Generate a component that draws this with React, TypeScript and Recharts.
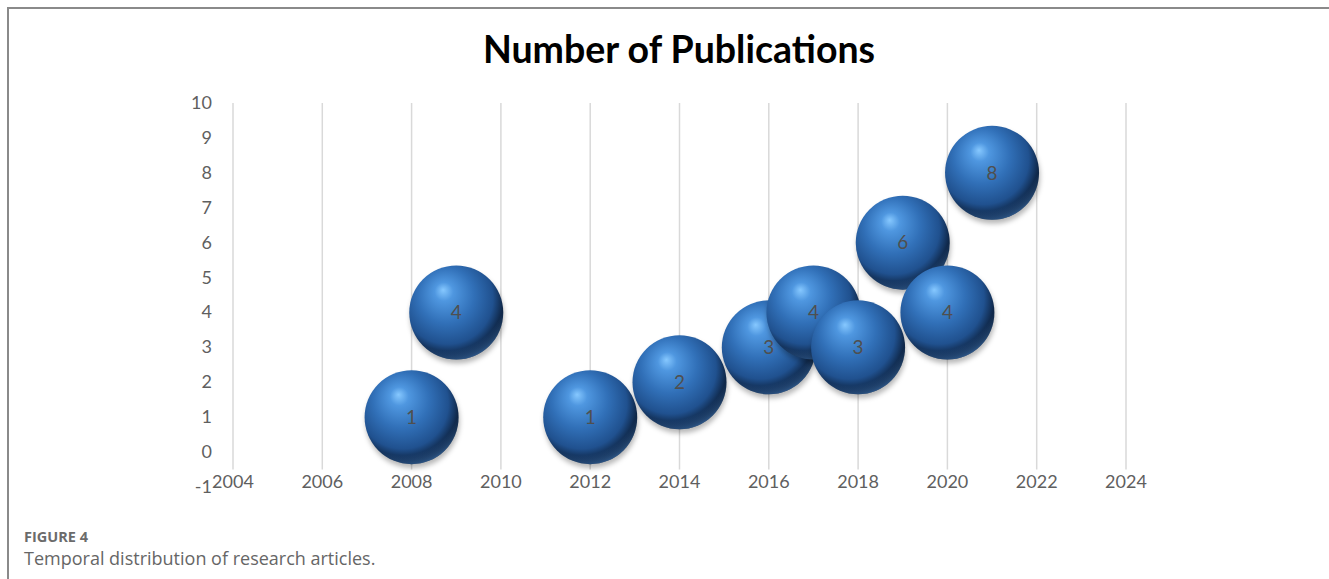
import { LabelList, ReferenceLine, Scatter, ScatterChart, XAxis, YAxis } from "recharts";

const years = [2008, 2009, 2012, 2014, 2016, 2017, 2018, 2019, 2020, 2021];
const counts = [1, 4, 1, 2, 3, 4, 3, 6, 4, 8];
const xTicks = [2004, 2006, 2008, 2010, 2012, 2014, 2016, 2018, 2020, 2022, 2024];
const yTicks = [-1, 0, 1, 2, 3, 4, 5, 6, 7, 8, 9, 10];
const gridBottom = -0.5;

const data = years.map((year, i) => ({ year, count: counts[i] }));

const tickFont = "Lato, 'Open Sans', sans-serif";
const BUBBLE_R = 47;

function Sphere(props: any) {
  const { cx, cy } = props;
  if (cx == null || cy == null) return null;
  return (
    <g>
      <circle cx={cx + 1} cy={cy + 4} r={BUBBLE_R} fill="rgba(0,0,0,0.28)" filter="url(#bubbleShadow)" />
      <circle cx={cx} cy={cy} r={BUBBLE_R} fill="url(#sphereBody)" />
      <circle cx={cx} cy={cy} r={BUBBLE_R} fill="url(#sphereRim)" />
    </g>
  );
}

function XTick(props: any) {
  const { x, y, payload } = props;
  return (
    <text x={x} y={y + 1} textAnchor="middle" fill="#5f5f5f" fontSize={18} fontFamily={tickFont}>
      {payload.value}
    </text>
  );
}

function YTick(props: any) {
  const { x, y, payload } = props;
  return (
    <text x={x - 21} y={y + 6} textAnchor="end" fill="#5f5f5f" fontSize={18} fontFamily={tickFont}>
      {payload.value}
    </text>
  );
}

export default function App() {
  return (
    <div style={{ position: "absolute", left: 0, top: 0, width: 1329, height: 579, background: "#fff", overflow: "hidden" }}>
      <div
        style={{
          position: "absolute",
          left: 7,
          top: 7,
          width: 1330,
          height: 580,
          borderTop: "2px solid #8a8a8a",
          borderLeft: "2px solid #8a8a8a",
        }}
      />
      <ScatterChart width={1329} height={579} margin={{ top: 103, right: 203, bottom: 62, left: 213 }} style={{ position: "absolute", left: 0, top: 0 }}>
        <defs>
          <radialGradient id="sphereBody" cx="42%" cy="38%" r="62%" fx="36%" fy="26%">
            <stop offset="0%" stopColor="#86c8ff" />
            <stop offset="16%" stopColor="#4f97e0" />
            <stop offset="48%" stopColor="#3170b8" />
            <stop offset="78%" stopColor="#20518f" />
            <stop offset="94%" stopColor="#0f2748" />
            <stop offset="100%" stopColor="#09182c" />
          </radialGradient>
          <radialGradient id="sphereRim" cx="40%" cy="28%" r="78%">
            <stop offset="80%" stopColor="#4a8ad6" stopOpacity={0} />
            <stop offset="94%" stopColor="#4a8ad6" stopOpacity={0.5} />
            <stop offset="100%" stopColor="#4a8ad6" stopOpacity={0.75} />
          </radialGradient>
          <filter id="bubbleShadow" x="-30%" y="-30%" width="160%" height="160%">
            <feGaussianBlur stdDeviation="2.5" />
          </filter>
        </defs>
        {xTicks.map((t) => (
          <ReferenceLine
            key={t}
            segment={[
              { x: t, y: gridBottom },
              { x: t, y: 10 },
            ]}
            stroke="#d9d9d9"
            strokeWidth={1.5}
          />
        ))}
        <XAxis
          type="number"
          dataKey="year"
          domain={[2004, 2024]}
          ticks={xTicks}
          axisLine={false}
          tickLine={false}
          tickSize={0}
          tickMargin={0}
          height={30}
          tick={<XTick />}
          interval={0}
        />
        <YAxis
          type="number"
          dataKey="count"
          domain={[-1, 10]}
          ticks={yTicks}
          axisLine={false}
          tickLine={false}
          tickSize={0}
          tickMargin={0}
          width={20}
          tick={<YTick />}
          interval={0}
        />
        <Scatter data={data} shape={<Sphere />} isAnimationActive={false}>
          <LabelList dataKey="count" position="center" fill="#4f4f4f" fontSize={19} fontFamily={tickFont} />
        </Scatter>
      </ScatterChart>
      <div
        style={{
          position: "absolute",
          left: 0,
          width: 1358,
          top: 29,
          textAlign: "center",
          fontFamily: "Lato, sans-serif",
          fontWeight: 700,
          fontSize: 37.5,
          lineHeight: "40px",
          color: "#000",
        }}
      >
        Number of Publications
      </div>
      <div style={{ position: "absolute", left: 24, top: 527, fontFamily: "'Open Sans', sans-serif", fontWeight: 700, fontSize: 14.5, color: "#6b6b6b" }}>
        FIGURE 4
      </div>
      <div style={{ position: "absolute", left: 24, top: 546, fontFamily: "'Open Sans', sans-serif", fontSize: 18, color: "#666" }}>
        Temporal distribution of research articles.
      </div>
    </div>
  );
}
